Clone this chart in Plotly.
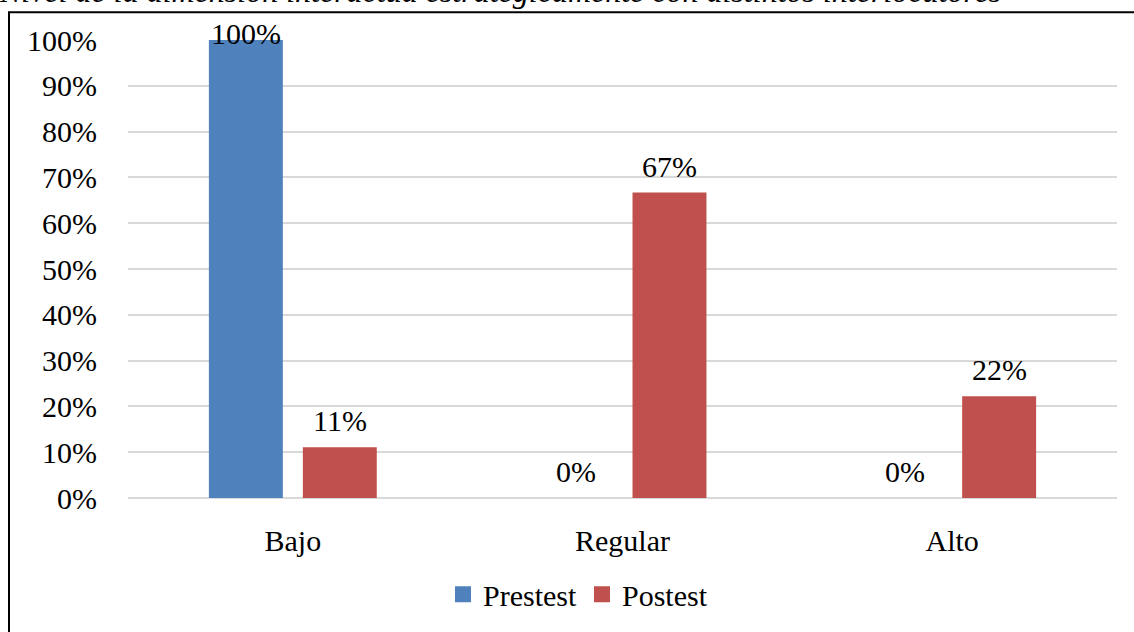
import plotly.graph_objects as go

categories = ["Bajo", "Regular", "Alto"]
prestest = [100.0, 0.0, 0.0]
postest = [11.1, 66.7, 22.2]
series_names = ["Prestest", "Postest"]
title_text = "Nivel de la dimensión interactúa estratégicamente con distintos interlocutores"

FONT = "Liberation Serif"
FS = 30
colors = ["#4F81BD", "#C0504D"]

W, H = 1134, 632
ml, mr, mt, mb = 128, 17, 40, 131
pw, ph = W - ml - mr, H - mt - mb
BARGAP, GROUPGAP = 0.43, 0.213

def py(p):  # page pixel y -> paper y
    return (H - mb - p) / ph

def px(p):  # page pixel x -> paper x
    return (p - ml) / pw

fig = go.Figure()
for name, vals, col in zip(series_names, [prestest, postest], colors):
    fig.add_trace(go.Bar(name=name, x=categories, y=vals, marker=dict(color=col, line=dict(width=0)),
                         offsetgroup=name, showlegend=False))
# legend entries with larger square swatches
for name, col in zip(series_names, colors):
    fig.add_trace(go.Scatter(name=name, x=[None], y=[None], mode="markers",
                             marker=dict(symbol="square", size=16, color=col), showlegend=True))

# data labels
annots = []
ngroups = 2
group_w = 1 - BARGAP
for si, vals in enumerate([prestest, postest]):
    off = (si - (ngroups - 1) / 2) * group_w / ngroups
    for ci, v in enumerate(vals):
        ys = -12 if v >= 100 else 8
        annots.append(dict(x=ci + off, y=v, xref="x", yref="y", text=f"{round(v)}%",
                           showarrow=False, yanchor="bottom", yshift=ys,
                           font=dict(family=FONT, size=FS, color="black")))

# partially cropped title
annots.append(dict(x=px(-3), y=py(11), xref="paper", yref="paper",
                   text=f"<i>{title_text}</i>", showarrow=False, xanchor="left", yanchor="bottom",
                   font=dict(family=FONT, size=32, color="black")))

fig.update_layout(
    width=W, height=H,
    margin=dict(l=ml, r=mr, t=mt, b=mb),
    paper_bgcolor="white", plot_bgcolor="white",
    font=dict(family=FONT, size=FS, color="black"),
    barmode="group", bargap=BARGAP, bargroupgap=GROUPGAP,
    showlegend=True,
    legend=dict(orientation="h", x=px(578), xanchor="center", y=py(598), yanchor="middle",
                font=dict(family=FONT, size=FS), itemwidth=30, bgcolor="rgba(0,0,0,0)"),
    annotations=annots,
    shapes=[dict(type="rect", xref="paper", yref="paper",
                 x0=px(9), x1=px(W + 20), y0=py(H + 20), y1=py(12),
                 line=dict(color="black", width=2), fillcolor="rgba(0,0,0,0)", layer="above")],
)
fig.update_yaxes(range=[0, 100], dtick=10, ticksuffix="%", showgrid=True, gridcolor="#d9d9d9",
                 gridwidth=2, zeroline=True, zerolinecolor="#d9d9d9", zerolinewidth=2,
                 showline=False, ticks="outside", ticklen=24, tickcolor="rgba(0,0,0,0)",
                 tickfont=dict(family=FONT, size=FS))
fig.update_xaxes(showgrid=False, showline=False, ticks="outside", ticklen=16,
                 tickcolor="rgba(0,0,0,0)", tickfont=dict(family=FONT, size=FS))

fig.write_html("out.html", config={"displayModeBar": False},
               post_script="document.body.style.margin='0';document.body.style.overflow='hidden';")
